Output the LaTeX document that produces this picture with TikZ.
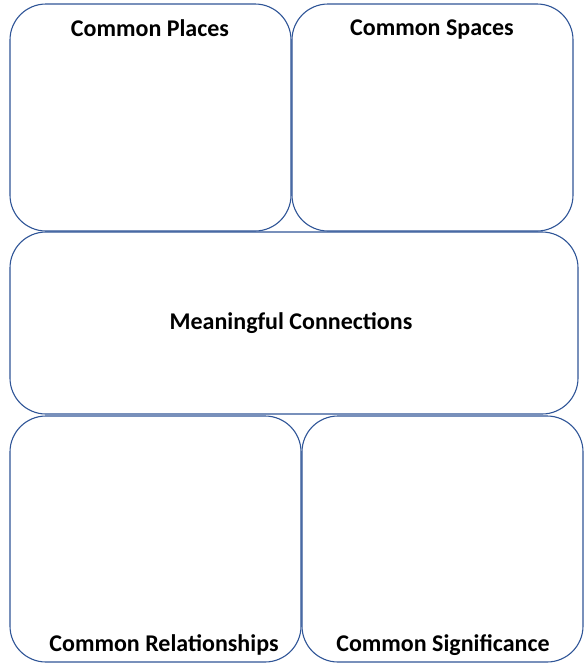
\documentclass[tikz,border=0pt]{standalone}
\usepackage{fontspec}
\setmainfont{Carlito}
\definecolor{boxblue}{RGB}{47,85,151}
\begin{document}
\begin{tikzpicture}[x=1pt,y=-1pt,
  box/.style={draw=boxblue, line width=1.1pt, rounded corners=36pt},
  lbl/.style={font=\fontsize{24}{28}\selectfont\bfseries, text=black, inner sep=0pt, anchor=center}]
\useasboundingbox (0,0) rectangle (584,667);
\draw[box] (10,4) rectangle (291,231);
\draw[box] (292,4) rectangle (573,231);
\draw[box] (10,232) rectangle (578,414);
\draw[box] (10,416) rectangle (301,662);
\draw[box] (302,416) rectangle (583,662);
\node[lbl] (places) at (150,28) {Common Places};
\node[lbl] (spaces) at (432,30) {Common Spaces};
\node[lbl] (meaning) at (291,323) {Meaningful Connections};
\node[lbl] (rel) at (164,645) {Common Relationships};
\node[lbl] (sig) at (443,645) {Common Significance};
\end{tikzpicture}
\end{document}
